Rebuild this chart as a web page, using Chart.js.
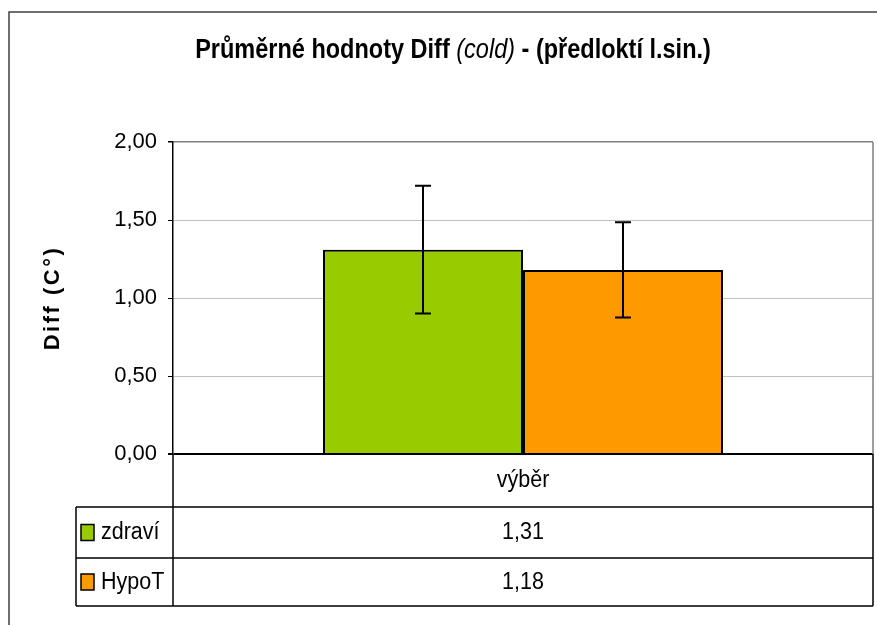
<!DOCTYPE html>
<html lang="cs">
<head>
    <meta charset="UTF-8">
    <title>Průměrné hodnoty Diff (cold)</title>
    <script src="https://cdn.jsdelivr.net/npm/chart.js"></script>
    <style>
        body {
            margin: 0;
            background-color: #ffffff;
        }
        canvas {
            display: block;
        }
    </style>
</head>
<body>
    <canvas id="diffChart" width="877" height="625"></canvas>

    <script>
        // data
        const categories = ['výběr'];
        const seriesNames = ['zdraví', 'HypoT'];
        const seriesValues = [1.31, 1.18];
        const seriesErrors = [0.41, 0.305];
        const seriesColors = ['#99CC00', '#FF9900'];
        const yTicks = [0, 0.5, 1, 1.5, 2];

        const FONT = '"Liberation Sans", Arial, sans-serif';
        const fmt = v => v.toFixed(2).replace('.', ',');

        // text a bit taller than wide, like the original export
        function tallText(ctx, text, x, y, stretch) {
            ctx.save();
            ctx.translate(x, y);
            ctx.scale(1, stretch);
            ctx.fillText(text, 0, 0);
            ctx.restore();
        }

        // white background, outer frame, title and y axis title
        const frame = {
            id: 'frame',
            beforeDraw(chart) {
                const ctx = chart.ctx;
                ctx.save();
                ctx.fillStyle = '#fff';
                ctx.fillRect(0, 0, chart.width, chart.height);
                ctx.strokeStyle = '#404040';
                ctx.lineWidth = 1.5;
                ctx.beginPath();
                ctx.moveTo(9, chart.height);
                ctx.lineTo(9, 12);
                ctx.lineTo(chart.width, 12);
                ctx.stroke();

                // title in three styles
                const parts = [
                    { t: 'Průměrné hodnoty Diff ', f: 'bold 23.5px ' + FONT },
                    { t: '(cold)', f: 'italic 23.5px ' + FONT },
                    { t: ' - (předloktí l.sin.)', f: 'bold 23.5px ' + FONT }
                ];
                let total = 0;
                parts.forEach(p => { ctx.font = p.f; p.w = ctx.measureText(p.t).width; total += p.w; });
                let x = 453 - total / 2;
                ctx.fillStyle = '#000';
                ctx.textBaseline = 'alphabetic';
                ctx.textAlign = 'left';
                parts.forEach(p => { ctx.font = p.f; tallText(ctx, p.t, x, 58, 1.15); x += p.w; });

                // y axis title
                ctx.translate(53, chart.chartArea.top + (chart.chartArea.bottom - chart.chartArea.top) / 2);
                ctx.rotate(-Math.PI / 2);
                ctx.font = 'bold 22px ' + FONT;
                ctx.letterSpacing = '2.5px';
                ctx.textAlign = 'center';
                ctx.textBaseline = 'middle';
                ctx.fillText('Diff (C°)', 0, 0);
                ctx.restore();
            }
        };

        // error bars on top of the bars
        const errorBars = {
            id: 'errorBars',
            afterDatasetsDraw(chart) {
                const ctx = chart.ctx;
                const y = chart.scales.y;
                ctx.save();
                ctx.strokeStyle = '#000';
                ctx.lineWidth = 2;
                chart.data.datasets.forEach((ds, i) => {
                    const bar = chart.getDatasetMeta(i).data[0];
                    const v = ds.data[0];
                    const top = y.getPixelForValue(v + seriesErrors[i]);
                    const bot = y.getPixelForValue(v - seriesErrors[i]);
                    ctx.beginPath();
                    ctx.moveTo(bar.x, top);
                    ctx.lineTo(bar.x, bot);
                    ctx.moveTo(bar.x - 8, top);
                    ctx.lineTo(bar.x + 8, top);
                    ctx.moveTo(bar.x - 8, bot);
                    ctx.lineTo(bar.x + 8, bot);
                    ctx.stroke();
                });
                ctx.restore();
            }
        };

        // data table under the plot
        const dataTable = {
            id: 'dataTable',
            afterDraw(chart) {
                const ctx = chart.ctx;
                const a = chart.chartArea;
                const rows = [a.bottom, a.bottom + 53, a.bottom + 104, a.bottom + 152];
                const tableLeft = 76;
                const mid = (a.left + a.right) / 2;
                ctx.save();

                // plot right border
                ctx.strokeStyle = '#808080';
                ctx.lineWidth = 1.5;
                ctx.beginPath();
                ctx.moveTo(a.right, a.top);
                ctx.lineTo(a.right, a.bottom);
                ctx.stroke();

                ctx.strokeStyle = '#000';
                ctx.lineWidth = 1.5;
                ctx.beginPath();
                ctx.moveTo(a.left, a.bottom);
                ctx.lineTo(a.left, rows[3]);
                ctx.moveTo(a.right, a.bottom);
                ctx.lineTo(a.right, rows[3]);
                ctx.moveTo(tableLeft, rows[1]);
                ctx.lineTo(tableLeft, rows[3]);
                for (let r = 1; r < 4; r++) {
                    ctx.moveTo(tableLeft, rows[r]);
                    ctx.lineTo(a.right, rows[r]);
                }
                ctx.stroke();

                ctx.fillStyle = '#000';
                ctx.font = '21.5px ' + FONT;
                ctx.textAlign = 'center';
                ctx.textBaseline = 'middle';
                tallText(ctx, categories[0], mid, (rows[0] + rows[1]) / 2, 1.1);

                seriesNames.forEach((name, i) => {
                    const cy = (rows[i + 1] + rows[i + 2]) / 2;
                    ctx.fillStyle = seriesColors[i];
                    ctx.fillRect(81, cy - 8, 13, 16);
                    ctx.strokeStyle = '#000';
                    ctx.lineWidth = 1.5;
                    ctx.strokeRect(81, cy - 8, 13, 16);
                    ctx.fillStyle = '#000';
                    ctx.textAlign = 'left';
                    tallText(ctx, name, 101, cy, 1.1);
                    ctx.textAlign = 'center';
                    tallText(ctx, fmt(seriesValues[i]), mid, cy, 1.1);
                });
                ctx.restore();
            }
        };

        const ctx = document.getElementById('diffChart').getContext('2d');

        new Chart(ctx, {
            type: 'bar',
            data: {
                labels: categories,
                datasets: seriesNames.map((name, i) => ({
                    label: name,
                    data: [seriesValues[i]],
                    backgroundColor: seriesColors[i],
                    borderColor: '#000',
                    borderWidth: 2,
                    categoryPercentage: 0.5714,
                    barPercentage: 1
                }))
            },
            options: {
                responsive: false,
                animation: false,
                layout: {
                    padding: { left: 0, top: 142, right: 4, bottom: 171 }
                },
                scales: {
                    x: {
                        display: false
                    },
                    y: {
                        min: 0,
                        max: 2,
                        afterFit: s => { s.width = 173; },
                        afterBuildTicks: s => { s.ticks = yTicks.map(v => ({ value: v })); },
                        ticks: {
                            callback: v => fmt(v),
                            color: '#000',
                            padding: 11,
                            font: { family: FONT, size: 22 }
                        },
                        grid: {
                            color: c => c.tick.value === 0 ? '#000' : (c.tick.value === 2 ? '#808080' : '#c0c0c0'),
                            lineWidth: c => c.tick.value === 0 ? 2 : (c.tick.value === 2 ? 1.5 : 1),
                            tickLength: 5,
                            tickColor: '#000'
                        },
                        border: {
                            color: '#000',
                            width: 1.5
                        }
                    }
                },
                plugins: {
                    legend: { display: false },
                    tooltip: { enabled: false }
                }
            },
            plugins: [frame, errorBars, dataTable]
        });
    </script>
</body>
</html>
